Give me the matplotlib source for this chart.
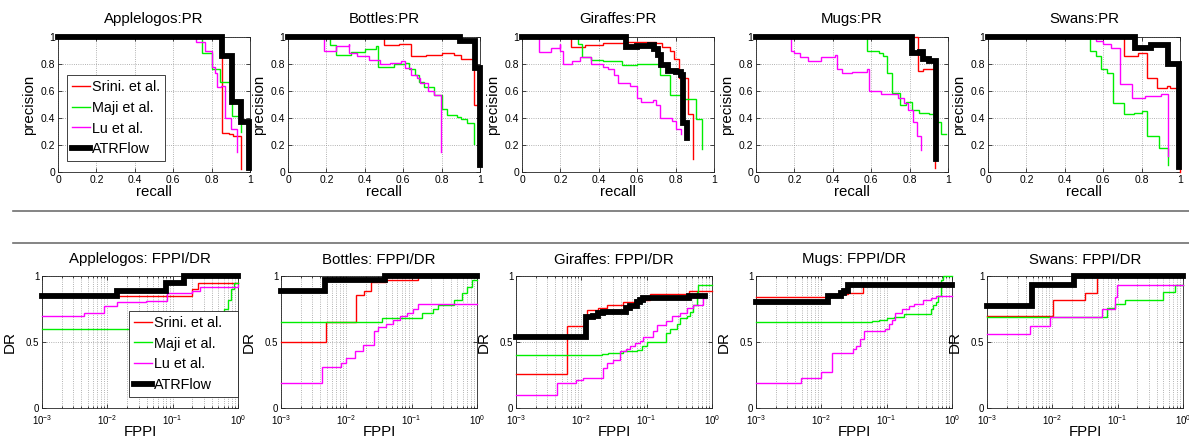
import matplotlib
matplotlib.use('Agg')
import matplotlib.pyplot as plt

plt.rcParams['font.family'] = ['Liberation Sans', 'DejaVu Sans']

classes = ['Applelogos', 'Bottles', 'Giraffes', 'Mugs', 'Swans']
methods = ['Srini. et al.', 'Maji et al.', 'Lu et al.', 'ATRFlow']
colors = ['#ff0000', '#00ee00', '#ff00ff', '#000000']

# ---- precision / recall curves: (recall, precision), drawn as post-steps ----
apple_pr_srini = ([0, 0.855, 0.89, 0.91, 0.955], [1, 0.29, 0.28, 0.27, 0.02])
apple_pr_maji = ([0, 0.752, 0.80, 0.843, 0.904, 0.953], [1, 0.885, 0.76, 0.665, 0.415, 0.30])
apple_pr_lu = ([0.70, 0.72, 0.764, 0.80, 0.816, 0.83, 0.85, 0.87, 0.90, 0.93],
               [1.0, 0.96, 0.90, 0.78, 0.73, 0.63, 0.64, 0.40, 0.32, 0.15])
apple_pr_atr = ([0, 0.855, 0.904, 0.953, 0.995], [1, 0.857, 0.52, 0.373, 0.03])

bottle_pr_srini = ([0, 0.50, 0.58, 0.64, 0.72, 0.80, 0.865, 0.90, 0.97, 1.0],
                   [1, 0.94, 0.945, 0.86, 0.87, 0.88, 0.865, 0.84, 0.50, 0.50])
bottle_pr_maji = ([0.20, 0.22, 0.25, 0.33, 0.40, 0.46, 0.47, 0.55, 0.61, 0.63, 0.66, 0.68, 0.71,
                   0.76, 0.80, 0.83, 0.88, 0.90, 0.93, 0.97],
                  [1.0, 0.94, 0.87, 0.89, 0.91, 0.93, 0.78, 0.80, 0.81, 0.76, 0.72, 0.67, 0.63,
                   0.57, 0.47, 0.42, 0.41, 0.39, 0.36, 0.21])
bottle_pr_lu = ([0.19, 0.19, 0.25, 0.32, 0.32, 0.36, 0.42, 0.48, 0.53, 0.59, 0.61, 0.64, 0.67,
                 0.69, 0.73, 0.76, 0.795],
                [1.0, 0.90, 0.93, 0.95, 0.88, 0.86, 0.83, 0.80, 0.81, 0.82, 0.77, 0.72, 0.70,
                 0.66, 0.60, 0.57, 0.15])
bottle_pr_atr = ([0, 0.896, 0.976, 1.0], [1, 0.97, 0.77, 0.05])

giraffe_pr_srini = ([0, 0.257, 0.33, 0.42, 0.545, 0.70, 0.73, 0.77, 0.79, 0.82, 0.865, 0.89],
                    [1, 0.925, 0.94, 0.955, 0.965, 0.955, 0.925, 0.90, 0.84, 0.70, 0.43, 0.10])
giraffe_pr_maji = ([0.29, 0.29, 0.31, 0.36, 0.42, 0.52, 0.60, 0.72, 0.77, 0.84, 0.906, 0.94],
                   [1.0, 0.95, 0.85, 0.83, 0.82, 0.79, 0.80, 0.72, 0.57, 0.54, 0.39, 0.17])
giraffe_pr_lu = ([0.09, 0.09, 0.15, 0.197, 0.197, 0.214, 0.26, 0.30, 0.36, 0.42, 0.45, 0.48,
                  0.50, 0.56, 0.60, 0.62, 0.68, 0.70, 0.72, 0.78, 0.80, 0.83],
                 [1.0, 0.89, 0.92, 0.95, 0.90, 0.80, 0.82, 0.85, 0.80, 0.78, 0.76, 0.72,
                  0.66, 0.64, 0.55, 0.52, 0.53, 0.50, 0.40, 0.38, 0.32, 0.28])
giraffe_pr_atr = ([0, 0.54, 0.60, 0.666, 0.69, 0.71, 0.725, 0.76, 0.80, 0.83, 0.837, 0.857],
                  [1, 0.925, 0.935, 0.94, 0.91, 0.87, 0.79, 0.75, 0.74, 0.72, 0.36, 0.25])

mug_pr_srini = ([0, 0.843, 0.87, 0.93], [1, 0.75, 0.76, 0.03])
mug_pr_maji = ([0.58, 0.58, 0.64, 0.66, 0.68, 0.71, 0.75, 0.78, 0.81, 0.85, 0.90, 0.935, 0.965, 0.99],
               [1.0, 0.90, 0.88, 0.86, 0.73, 0.585, 0.50, 0.52, 0.46, 0.44, 0.43, 0.37, 0.28, 0.28])
mug_pr_lu = ([0.18, 0.18, 0.20, 0.23, 0.27, 0.34, 0.41, 0.42, 0.45, 0.50, 0.58, 0.59, 0.65,
              0.70, 0.74, 0.77, 0.79, 0.82, 0.84, 0.86],
             [1.0, 0.90, 0.88, 0.85, 0.82, 0.85, 0.87, 0.76, 0.73, 0.74, 0.76, 0.60, 0.58,
              0.58, 0.55, 0.51, 0.46, 0.37, 0.27, 0.16])
mug_pr_atr = ([0, 0.81, 0.855, 0.87, 0.90, 0.938], [1, 0.88, 0.89, 0.84, 0.82, 0.10])

swan_pr_srini = ([0, 0.71, 0.78, 0.83, 0.88, 0.93, 0.95, 1.0], [1, 0.86, 0.88, 0.70, 0.62, 0.64, 0.62, 0.0])
swan_pr_maji = ([0.53, 0.53, 0.56, 0.59, 0.62, 0.65, 0.71, 0.76, 0.80, 0.83, 0.89, 0.94],
                [1.0, 0.90, 0.86, 0.76, 0.73, 0.51, 0.43, 0.44, 0.45, 0.27, 0.18, 0.05])
swan_pr_lu = ([0.56, 0.56, 0.60, 0.64, 0.685, 0.75, 0.82, 0.90, 0.94],
              [1.0, 0.97, 0.95, 0.92, 0.65, 0.55, 0.565, 0.58, 0.12])
swan_pr_atr = ([0, 0.765, 0.85, 0.94, 0.997], [1, 0.92, 0.94, 0.80, 0.04])

# ---- FPPI / detection-rate curves: (FPPI, DR), drawn as post-steps ----
apple_fd_srini = ([1e-3, 0.2, 0.24, 1.0], [0.85, 0.90, 0.95, 0.95])
apple_fd_maji = ([1e-3, 0.62, 0.70, 0.78, 0.87, 0.94, 1.0], [0.60, 0.75, 0.82, 0.90, 0.95, 0.95, 0.95])
apple_fd_lu = ([1e-3, 0.0044, 0.009, 0.014, 0.039, 0.083, 0.2, 0.26, 1.0],
               [0.70, 0.72, 0.77, 0.80, 0.81, 0.87, 0.89, 0.92, 0.93])
apple_fd_atr = ([1e-3, 0.0143, 0.079, 0.15, 1.0], [0.85, 0.89, 0.95, 1.0, 1.0])

bottle_fd_srini = ([1e-3, 0.0048, 0.0139, 0.0185, 0.0235, 0.04, 0.126],
                   [0.50, 0.65, 0.855, 0.885, 0.955, 0.97, 1.0])
bottle_fd_maji = ([1e-3, 0.035, 0.143, 0.215, 0.257, 0.437, 0.59, 0.70, 0.84, 1.0],
                  [0.65, 0.68, 0.72, 0.75, 0.78, 0.82, 0.87, 0.92, 0.97, 0.97])
bottle_fd_lu = ([1e-3, 0.0043, 0.0084, 0.0098, 0.0135, 0.018, 0.0263, 0.0307, 0.041, 0.052,
                 0.066, 0.084, 0.106, 0.127, 1.0],
                [0.19, 0.31, 0.34, 0.38, 0.43, 0.48, 0.58, 0.61, 0.64, 0.67,
                 0.70, 0.72, 0.75, 0.79, 0.79])
bottle_fd_atr = ([1e-3, 0.0047, 0.039, 1.0], [0.89, 0.97, 1.0, 1.0])

giraffe_fd_srini = ([1e-3, 0.006, 0.0122, 0.018, 0.0243, 0.044, 0.070, 0.112, 0.44, 1.0],
                    [0.26, 0.62, 0.74, 0.76, 0.78, 0.80, 0.82, 0.86, 0.89, 0.89])
giraffe_fd_maji = ([1e-3, 0.021, 0.0257, 0.044, 0.070, 0.084, 0.1, 0.2, 0.23, 0.29, 0.326,
                    0.41, 0.46, 0.52, 0.59, 0.62, 1.0],
                   [0.40, 0.41, 0.42, 0.43, 0.44, 0.47, 0.50, 0.57, 0.60, 0.64, 0.68,
                    0.70, 0.73, 0.78, 0.88, 0.93, 0.93])
giraffe_fd_lu = ([1e-3, 0.0042, 0.0084, 0.0106, 0.0215, 0.0243, 0.0308, 0.039, 0.049, 0.055,
                  0.066, 0.079, 0.089, 0.127, 0.143, 0.2, 0.243, 0.326, 0.41, 0.52, 0.74, 0.79],
                 [0.10, 0.19, 0.21, 0.23, 0.30, 0.34, 0.36, 0.43, 0.45, 0.47,
                  0.49, 0.51, 0.54, 0.58, 0.63, 0.66, 0.70, 0.72, 0.76, 0.78, 0.83, 0.83])
giraffe_fd_atr = ([1e-3, 0.0119, 0.0151, 0.018, 0.0215, 0.049, 0.055, 0.070, 0.079, 0.089, 0.44, 0.79],
                  [0.54, 0.69, 0.70, 0.72, 0.73, 0.76, 0.77, 0.80, 0.82, 0.83, 0.85, 0.85])

mug_fd_srini = ([1e-3, 0.0127, 0.0255, 0.044, 1.0], [0.84, 0.86, 0.87, 0.93, 0.93])
mug_fd_maji = ([1e-3, 0.059, 0.075, 0.1, 0.129, 0.185, 0.48, 0.51, 0.57, 0.61, 0.69, 0.73, 1.0],
               [0.65, 0.66, 0.67, 0.68, 0.69, 0.71, 0.75, 0.78, 0.80, 0.85, 0.97, 1.0, 1.0])
mug_fd_lu = ([1e-3, 0.0049, 0.010, 0.0148, 0.0305, 0.034, 0.0388, 0.045, 0.095, 0.107, 0.121,
              0.136, 0.174, 0.22, 0.26, 0.36, 0.48, 0.57, 1.0],
             [0.19, 0.23, 0.27, 0.42, 0.45, 0.47, 0.52, 0.58, 0.60, 0.64, 0.67,
              0.72, 0.75, 0.77, 0.79, 0.82, 0.83, 0.85, 0.85])
mug_fd_atr = ([1e-3, 0.0127, 0.020, 0.0226, 0.0255, 1.0], [0.80, 0.85, 0.87, 0.89, 0.93, 0.93])

swan_fd_srini = ([1e-3, 0.0102, 0.0315, 0.0475], [0.70, 0.82, 0.87, 0.98])
swan_fd_maji = ([1e-3, 0.068, 0.09, 0.13, 0.486, 0.76, 1.0], [0.69, 0.76, 0.79, 0.82, 0.88, 0.93, 0.93])
swan_fd_lu = ([1e-3, 0.0046, 0.0093, 0.057, 0.091, 0.096, 1.0], [0.56, 0.62, 0.69, 0.75, 0.84, 0.93, 0.93])
swan_fd_atr = ([1e-3, 0.0049, 0.0216, 1.0], [0.77, 0.93, 1.0, 1.0])

pr_curves = [
    [apple_pr_srini, apple_pr_maji, apple_pr_lu, apple_pr_atr],
    [bottle_pr_srini, bottle_pr_maji, bottle_pr_lu, bottle_pr_atr],
    [giraffe_pr_srini, giraffe_pr_maji, giraffe_pr_lu, giraffe_pr_atr],
    [mug_pr_srini, mug_pr_maji, mug_pr_lu, mug_pr_atr],
    [swan_pr_srini, swan_pr_maji, swan_pr_lu, swan_pr_atr],
]
fd_curves = [
    [apple_fd_srini, apple_fd_maji, apple_fd_lu, apple_fd_atr],
    [bottle_fd_srini, bottle_fd_maji, bottle_fd_lu, bottle_fd_atr],
    [giraffe_fd_srini, giraffe_fd_maji, giraffe_fd_lu, giraffe_fd_atr],
    [mug_fd_srini, mug_fd_maji, mug_fd_lu, mug_fd_atr],
    [swan_fd_srini, swan_fd_maji, swan_fd_lu, swan_fd_atr],
]

W, H = 1189, 438
fig = plt.figure(figsize=(W / 100, H / 100), dpi=100)


def px_axes(left, top, right, bottom):
    return fig.add_axes([left / W, 1 - bottom / H, (right - left) / W, (bottom - top) / H])


def draw_curves(ax, curves):
    for k, (x, y) in enumerate(curves):
        lw = 4.2 if k == 3 else 1.0
        ax.step(x, y, where='post', color=colors[k], lw=lw, label=methods[k],
                clip_on=False, solid_joinstyle='miter', zorder=3 + k)


def base_style(ax):
    ax.tick_params(which='both', direction='in', top=True, right=True, width=0.5, pad=2)
    ax.tick_params(which='major', length=3)
    ax.tick_params(which='minor', length=1.5)
    for s in ax.spines.values():
        s.set_linewidth(0.6)
        s.set_color('#222222')


def add_legend(ax, **kw):
    leg = ax.legend(fontsize=10.4, handlelength=1.25, handletextpad=0.15, labelspacing=0.48,
                    borderpad=0.32, borderaxespad=0, fancybox=False, framealpha=1, **kw)
    leg.get_frame().set_edgecolor('#222222')
    leg.get_frame().set_linewidth(0.6)
    leg.set_zorder(20)


top_lefts = [58, 288, 522, 756, 988]
bot_lefts = [42, 281, 516, 756, 987]

# top row: precision / recall
for i, cls in enumerate(classes):
    ax = px_axes(top_lefts[i], 37, top_lefts[i] + 192, 172)
    draw_curves(ax, pr_curves[i])
    ax.set_xlim(0, 1)
    ax.set_ylim(0, 1)
    ticks = [0, 0.2, 0.4, 0.6, 0.8, 1]
    labels = ['0', '0.2', '0.4', '0.6', '0.8', '1']
    ax.set_xticks(ticks, labels)
    ax.set_yticks(ticks, labels)
    base_style(ax)
    ax.tick_params(labelsize=7.5)
    ax.grid(True, linestyle=':', color='#999999', lw=0.6)
    ax.set_title(cls + ':PR', fontsize=10.8, pad=10)
    ax.set_xlabel('recall', fontsize=10.8)
    ax.xaxis.set_label_coords(0.5, -0.10)
    ax.set_ylabel('precision', fontsize=10.8)
    ax.yaxis.set_label_coords(-0.115, 0.5)
    if i == 0:
        add_legend(ax, loc='lower left', bbox_to_anchor=(0.047, 0.081))

# bottom row: FPPI / DR
for i, cls in enumerate(classes):
    ax = px_axes(bot_lefts[i], 276, bot_lefts[i] + 196, 408)
    draw_curves(ax, fd_curves[i])
    ax.set_xscale('log')
    ax.set_xlim(1e-3, 1)
    ax.set_ylim(0, 1)
    ax.set_yticks([0, 0.5, 1], ['0', '0.5', '1'])
    base_style(ax)
    ax.tick_params(labelsize=7)
    ax.tick_params(axis='x', which='both', pad=4)
    ax.grid(True, which='both', axis='x', linestyle=':', color='#999999', lw=0.6)
    ax.grid(True, which='major', axis='y', linestyle=':', color='#999999', lw=0.6)
    ax.set_title(cls + ': FPPI/DR', fontsize=10.8, pad=9)
    ax.set_xlabel('FPPI', fontsize=10.8)
    ax.xaxis.set_label_coords(0.5, -0.125)
    ax.set_ylabel('DR', fontsize=11)
    ax.yaxis.set_label_coords(-0.13, 0.5)
    if i == 0:
        add_legend(ax, loc='lower left', bbox_to_anchor=(0.444, 0.083, 0.556, 0.7), mode='expand')

# separator lines between the two rows
for yp in (211, 243):
    fig.add_artist(plt.Line2D([13 / W, 1], [1 - yp / H, 1 - yp / H], color='#707070', lw=1.2))

fig.savefig('out.png', dpi=100)
